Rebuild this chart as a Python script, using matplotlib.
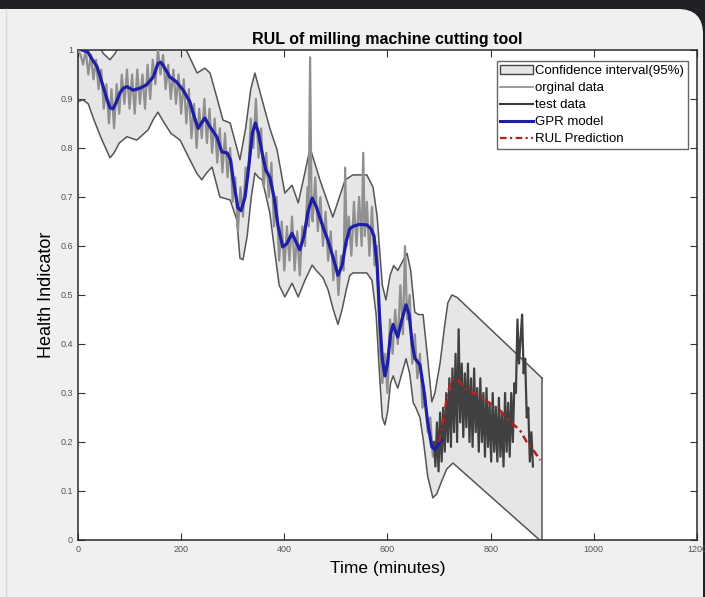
import numpy as np
import matplotlib
matplotlib.use("Agg")
import matplotlib.pyplot as plt
from matplotlib.patches import FancyBboxPatch, Patch
from matplotlib.lines import Line2D

plt.rcParams['font.family'] = ['Liberation Sans', 'DejaVu Sans']

# GPR model (blue)
gpr_x = [8, 19, 28, 37, 49, 56, 62, 68, 75, 81, 88, 95, 107, 120, 133, 146, 155, 160, 165,
         178, 191, 204, 217, 225, 233, 240, 246, 256, 269, 279, 289, 296, 301, 310, 316, 324,
         332, 338, 344, 350, 357, 364, 372, 380, 388, 397, 405, 415, 422, 430, 438, 446, 454,
         462, 475, 485, 495, 504, 512, 520, 527, 533, 545, 560, 568, 574, 580, 585, 590, 595,
         600, 606, 611, 616, 620, 628, 636, 642, 648, 653, 663, 670, 678, 686, 692, 698, 705]
gpr_y = [1.0, 0.996, 0.98, 0.966, 0.925, 0.9, 0.882, 0.88, 0.895, 0.912, 0.922, 0.925, 0.918,
         0.922, 0.929, 0.945, 0.972, 0.975, 0.969, 0.945, 0.935, 0.918, 0.894, 0.865, 0.84,
         0.852, 0.861, 0.843, 0.823, 0.792, 0.79, 0.775, 0.735, 0.678, 0.672, 0.70, 0.77, 0.83,
         0.851, 0.83, 0.79, 0.755, 0.74, 0.70, 0.64, 0.598, 0.605, 0.626, 0.61, 0.592, 0.62,
         0.67, 0.698, 0.68, 0.639, 0.61, 0.575, 0.54, 0.56, 0.61, 0.635, 0.64, 0.644, 0.643,
         0.635, 0.62, 0.56, 0.45, 0.37, 0.335, 0.36, 0.42, 0.44, 0.425, 0.414, 0.45, 0.48, 0.46,
         0.40, 0.371, 0.357, 0.31, 0.24, 0.19, 0.184, 0.195, 0.204]

# confidence interval (95%) bounds
up_x = [0, 30, 49, 62, 72, 90, 150, 195, 213, 231, 246, 256, 269, 281, 295, 308, 314, 325, 335,
        343, 357, 372, 386, 401, 415, 427, 440, 450, 469, 494, 518, 533, 560, 572, 580, 590, 597,
        605, 612, 620, 630, 638, 645, 653, 660, 669, 678, 686, 692, 702, 710, 717, 725, 735, 900]
up_y = [1.06, 1.03, 0.993, 0.98, 0.993, 1.03, 1.06, 1.03, 0.993, 0.953, 0.963, 0.953, 0.904,
        0.857, 0.851, 0.80, 0.776, 0.84, 0.92, 0.953, 0.898, 0.84, 0.796, 0.708, 0.724, 0.688,
        0.75, 0.80, 0.735, 0.659, 0.735, 0.745, 0.745, 0.72, 0.66, 0.52, 0.49, 0.54, 0.56,
        0.55, 0.57, 0.585, 0.55, 0.465, 0.46, 0.46, 0.37, 0.282, 0.30, 0.361, 0.43, 0.484, 0.50,
        0.495, 0.33]
lo_x = [0, 10, 20, 30, 45, 62, 70, 80, 95, 114, 136, 147, 155, 165, 180, 198, 215, 230, 240,
        250, 260, 275, 295, 308, 314, 320, 328, 336, 343, 350, 357, 365, 372, 380, 390, 401,
        408, 415, 427, 440, 454, 462, 475, 485, 495, 504, 512, 520, 527, 533, 560, 570, 578,
        585, 590, 595, 600, 606, 611, 616, 620, 628, 636, 643, 650, 655, 663, 670, 678, 688,
        696, 705, 715, 727, 895]
lo_y = [0.895, 0.898, 0.89, 0.86, 0.82, 0.78, 0.79, 0.81, 0.823, 0.816, 0.837, 0.86, 0.873,
        0.855, 0.83, 0.816, 0.78, 0.749, 0.735, 0.75, 0.761, 0.70, 0.694, 0.653, 0.575, 0.572,
        0.62, 0.70, 0.749, 0.74, 0.735, 0.70, 0.667, 0.60, 0.52, 0.496, 0.51, 0.524, 0.496,
        0.53, 0.561, 0.55, 0.535, 0.51, 0.47, 0.44, 0.47, 0.51, 0.54, 0.545, 0.545, 0.53, 0.46,
        0.33, 0.25, 0.235, 0.26, 0.32, 0.335, 0.32, 0.31, 0.34, 0.37, 0.34, 0.28, 0.27, 0.25,
        0.20, 0.13, 0.086, 0.095, 0.12, 0.145, 0.157, 0.0]

# original (training) data
orig_x = [0, 5, 10, 15, 20, 25, 30, 35, 40, 45, 50, 55, 60, 65, 70, 75, 80, 85, 90, 95, 100,
          105, 110, 115, 120, 125, 130, 135, 140, 145, 150, 155, 160, 165, 170, 175, 180, 185,
          190, 195, 200, 205, 210, 215, 220, 225, 230, 235, 240, 245, 250, 255, 260, 265, 270,
          275, 280, 285, 290, 295, 300, 305, 310, 315, 320, 325, 330, 335, 340, 345, 350, 355,
          360, 365, 370, 375, 380, 385, 390, 395, 400, 405, 410, 415, 420, 425, 430, 435, 440,
          445, 447, 450, 453, 455, 460, 465, 470, 475, 480, 485, 490, 495, 500, 505, 510, 515,
          518, 521, 525, 530, 535, 540, 545, 550, 553, 556, 560, 565, 570, 575, 580, 585, 590,
          595, 600, 605, 610, 615, 620, 625, 630, 634, 638, 643, 648, 653, 658, 663, 668, 673,
          678, 683, 688, 693]
orig_y = [1.0, 0.99, 0.97, 1.0, 0.95, 0.99, 0.94, 0.98, 0.92, 0.96, 0.88, 0.93, 0.85, 0.92,
          0.84, 0.93, 0.87, 0.95, 0.89, 0.96, 0.88, 0.95, 0.87, 0.96, 0.89, 0.95, 0.88, 0.97,
          0.90, 0.98, 0.93, 1.0, 0.95, 0.99, 0.92, 0.97, 0.90, 0.96, 0.89, 0.95, 0.87, 0.94,
          0.85, 0.92, 0.82, 0.89, 0.80, 0.88, 0.82, 0.90, 0.81, 0.88, 0.79, 0.86, 0.77, 0.84,
          0.75, 0.83, 0.74, 0.80, 0.69, 0.74, 0.63, 0.72, 0.66, 0.76, 0.74, 0.86, 0.80, 0.90,
          0.78, 0.84, 0.72, 0.79, 0.70, 0.77, 0.64, 0.70, 0.57, 0.65, 0.55, 0.64, 0.57, 0.66,
          0.55, 0.63, 0.54, 0.64, 0.60, 0.72, 0.64, 0.985, 0.66, 0.65, 0.74, 0.63, 0.70, 0.60,
          0.67, 0.57, 0.63, 0.53, 0.59, 0.50, 0.58, 0.55, 0.76, 0.60, 0.66, 0.58, 0.69, 0.60,
          0.70, 0.60, 0.79, 0.62, 0.69, 0.58, 0.68, 0.56, 0.60, 0.40, 0.32, 0.38, 0.30, 0.45,
          0.38, 0.47, 0.40, 0.52, 0.42, 0.60, 0.45, 0.50, 0.36, 0.42, 0.33, 0.38, 0.27, 0.30,
          0.22, 0.25, 0.17, 0.20]

# test data
test_x = [690, 693, 696, 699, 702, 705, 708, 711, 714, 717, 720, 723, 726, 729, 732, 735, 738,
          741, 744, 747, 750, 753, 756, 759, 762, 765, 768, 771, 774, 777, 780, 783, 786, 789,
          792, 795, 798, 801, 804, 807, 810, 813, 816, 819, 822, 825, 828, 831, 834, 837, 840,
          843, 846, 849, 852, 855, 858, 861, 864, 867, 870, 873, 876, 879, 882]
test_y = [0.20, 0.15, 0.24, 0.14, 0.26, 0.16, 0.27, 0.18, 0.30, 0.20, 0.33, 0.19, 0.35, 0.22,
          0.38, 0.20, 0.43, 0.24, 0.36, 0.21, 0.34, 0.23, 0.36, 0.20, 0.33, 0.19, 0.35, 0.22,
          0.31, 0.18, 0.33, 0.20, 0.30, 0.17, 0.31, 0.19, 0.28, 0.16, 0.30, 0.18, 0.27, 0.16,
          0.29, 0.17, 0.26, 0.15, 0.30, 0.18, 0.28, 0.17, 0.30, 0.20, 0.32, 0.30, 0.45, 0.36,
          0.41, 0.46, 0.34, 0.37, 0.25, 0.27, 0.16, 0.22, 0.15]

# RUL prediction
rul_x = [700, 708, 715, 722, 730, 738, 750, 765, 779, 790, 805, 818, 830, 845, 857, 870, 885, 896]
rul_y = [0.20, 0.24, 0.29, 0.32, 0.33, 0.325, 0.31, 0.30, 0.296, 0.285, 0.275, 0.265, 0.25,
         0.235, 0.224, 0.20, 0.18, 0.163]

fig = plt.figure(figsize=(7.05, 5.97), dpi=100, facecolor='#202124')
panel = FancyBboxPatch((-0.5, -0.5), 7.53, 6.38, boxstyle="round,pad=0,rounding_size=0.25",
                       transform=fig.dpi_scale_trans, facecolor='#f0f0f0', edgecolor='none',
                       zorder=-10)
fig.patches.append(panel)
fig.add_artist(Line2D([0.06, 0.06], [0, 5.88], transform=fig.dpi_scale_trans,
                      color='#d8d8d8', lw=1, zorder=-9))

ax = fig.add_axes([0.1106, 0.0955, 0.8780, 0.8208])
ax.set_facecolor('white')

# band polygon: upper bound left to right, down the right edge, lower bound back
ci_x = up_x + [900] + lo_x[::-1]
ci_y = up_y + [0.0] + lo_y[::-1]
ax.fill(ci_x, ci_y, facecolor='#e6e6e6', edgecolor='none', zorder=1)
ax.plot(up_x, up_y, color='#555555', lw=1.1, zorder=2)
ax.plot(lo_x, lo_y, color='#555555', lw=1.1, zorder=2)
ax.plot([900, 900], [0.0, 0.33], color='#555555', lw=1.1, zorder=2)

ax.plot(orig_x, orig_y, color='#909090', lw=1.6, zorder=3)
ax.plot(test_x, test_y, color='#404040', lw=1.6, zorder=4)
ax.plot(gpr_x, gpr_y, color='#1f1fa5', lw=2.3, zorder=5)
ax.plot(rul_x, rul_y, color='#b22222', lw=1.8, ls=(0, (3, 1.5, 1, 1.5)), zorder=6)

ax.set_xlim(0, 1200)
ax.set_ylim(0, 1)
ax.set_xticks([0, 200, 400, 600, 800, 1000, 1200])
ax.set_yticks([0, 0.1, 0.2, 0.3, 0.4, 0.5, 0.6, 0.7, 0.8, 0.9, 1])
ax.set_yticklabels(['0', '0.1', '0.2', '0.3', '0.4', '0.5', '0.6', '0.7', '0.8', '0.9', '1'])
ax.tick_params(direction='in', length=5, width=0.8, top=True, right=True,
               labelsize=6.5, labelcolor='#555555', color='#333333')
for s in ax.spines.values():
    s.set_color('#2a2a2a')
    s.set_linewidth(1.1)

ax.set_title('RUL of milling machine cutting tool', fontsize=11.5, fontweight='bold', pad=4)
ax.set_xlabel('Time (minutes)', fontsize=12.5, labelpad=5)
ax.set_ylabel('Health Indicator', fontsize=13, labelpad=4)

handles = [Patch(facecolor='#e6e6e6', edgecolor='#444444', lw=1),
           Line2D([], [], color='#8a8a8a', lw=1.2),
           Line2D([], [], color='#3c3c3c', lw=1.5),
           Line2D([], [], color='#1f1fa5', lw=2.2),
           Line2D([], [], color='#b22222', lw=1.6, ls=(0, (3, 1.5, 1, 1.5)))]
labels = ['Confidence interval(95%)', 'orginal data', 'test data', 'GPR model', 'RUL Prediction']
leg = ax.legend(handles, labels, loc='upper right', bbox_to_anchor=(0.986, 0.977),
                fontsize=9.5, fancybox=False, edgecolor='#666666', framealpha=1,
                handlelength=2.5, handletextpad=0.15, labelspacing=0.36, borderpad=0.3,
                borderaxespad=0)
leg.get_frame().set_linewidth(1)

fig.savefig('out.png', dpi=100, facecolor=fig.get_facecolor())
